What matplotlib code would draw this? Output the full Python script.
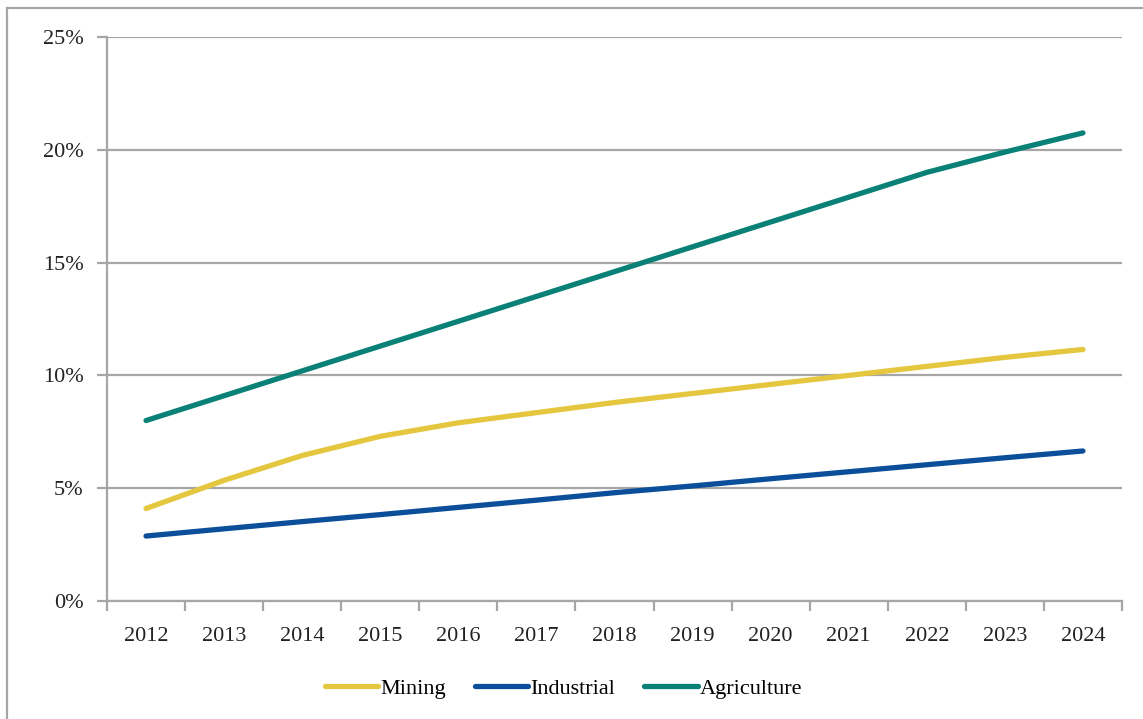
import matplotlib.pyplot as plt
from matplotlib.lines import Line2D
from matplotlib.ticker import FixedLocator, PercentFormatter

years = [str(y) for y in range(2012, 2025)]
mining = [4.1, 5.35, 6.45, 7.3, 7.9, 8.35, 8.8, 9.2, 9.6, 10.0, 10.4, 10.8, 11.15]
industrial = [2.88, 3.2, 3.52, 3.83, 4.15, 4.47, 4.8, 5.1, 5.42, 5.73, 6.04, 6.35, 6.65]
agriculture = [8.0, 9.1, 10.2, 11.3, 12.4, 13.5, 14.6, 15.7, 16.8, 17.9, 19.0, 19.9, 20.75]

plt.rcParams['font.family'] = ['Liberation Serif', 'DejaVu Serif']

fig = plt.figure(figsize=(11.43, 7.19), dpi=100)
ax = fig.add_axes([0.0936, 0.1641, 0.888, 0.7844])

x = range(len(years))
kw = dict(linewidth=3.8, solid_capstyle='round')
ax.plot(x, mining, color='#E5C63F', label='Mining', **kw)
ax.plot(x, industrial, color='#0B4F9B', label='Industrial', **kw)
ax.plot(x, agriculture, color='#0A8177', label='Agriculture', **kw)

ax.set_xlim(-0.5, len(years) - 0.5)
ax.set_ylim(0, 25)
ax.set_yticks([0, 5, 10, 15, 20, 25])
ax.yaxis.set_major_formatter(PercentFormatter(decimals=0))
ax.set_xticks(list(x))
ax.set_xticklabels(years)
ax.xaxis.set_minor_locator(FixedLocator([i - 0.5 for i in range(len(years) + 1)]))
ax.tick_params(axis='x', which='major', length=0, pad=19, labelsize=16, colors='#222222')
ax.tick_params(axis='x', which='minor', length=7, width=1.6, color='#A6A6A6')
ax.tick_params(axis='y', length=7, width=1.6, color='#A6A6A6', pad=10, labelsize=16, labelcolor='#222222')
ax.grid(axis='y', color='#A6A6A6', linewidth=1.6)
ax.set_axisbelow(True)
for s in ['top', 'right']:
    ax.spines[s].set_visible(False)
for s in ['left', 'bottom']:
    ax.spines[s].set_color('#A6A6A6')
    ax.spines[s].set_linewidth(1.6)

ax.legend(loc='center', bbox_to_anchor=(0.45, -0.155), ncol=3, frameon=False,
          fontsize=16, handlelength=2.4, handletextpad=0.1, columnspacing=1.3)

fig.add_artist(Line2D([0.0061, 0.0061], [0, 0.9889], color='#A6A6A6', linewidth=1.6))
fig.add_artist(Line2D([0.0061, 1.0], [0.9889, 0.9889], color='#A6A6A6', linewidth=1.6))

fig.savefig('out.png', dpi=100)
